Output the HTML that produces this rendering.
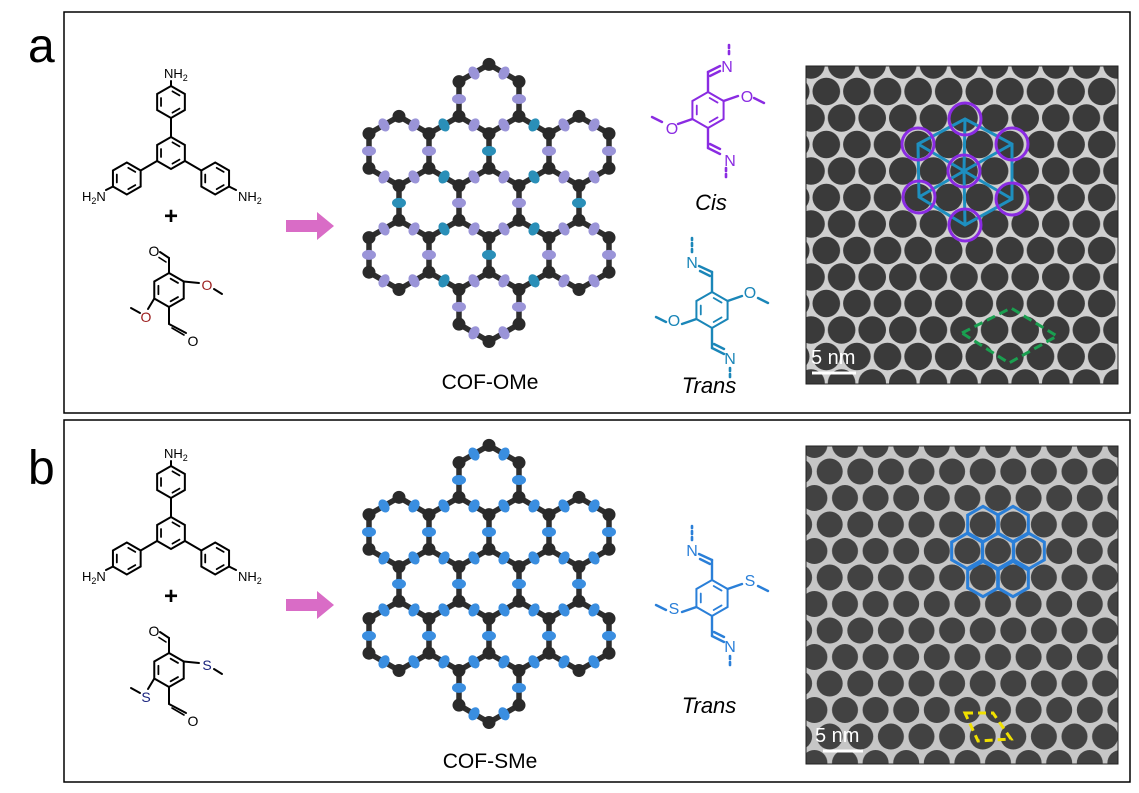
<!DOCTYPE html>
<html><head><meta charset="utf-8"><style>
html,body{margin:0;padding:0;background:#fff;}
svg{display:block;font-family:"Liberation Sans",Arial,sans-serif;}
</style></head><body>
<svg id="s" width="1139" height="793" viewBox="0 0 1139 793" xmlns="http://www.w3.org/2000/svg">
<defs>
<pattern id="pa" patternUnits="userSpaceOnUse" x="964" y="171" width="30.6" height="53">
<rect width="30.6" height="53" fill="#cfcfcf"/>
<circle cx="0" cy="0" r="13.8" fill="#3a3a3a"/><circle cx="30.6" cy="0" r="13.8" fill="#3a3a3a"/>
<circle cx="15.3" cy="26.5" r="13.8" fill="#3a3a3a"/>
<circle cx="0" cy="53" r="13.8" fill="#3a3a3a"/><circle cx="30.6" cy="53" r="13.8" fill="#3a3a3a"/>
</pattern>
<pattern id="pb" patternUnits="userSpaceOnUse" x="998" y="551" width="30.6" height="53">
<rect width="30.6" height="53" fill="#c6c6c6"/>
<circle cx="0" cy="0" r="13" fill="#424242"/><circle cx="30.6" cy="0" r="13" fill="#424242"/>
<circle cx="15.3" cy="26.5" r="13" fill="#424242"/>
<circle cx="0" cy="53" r="13" fill="#424242"/><circle cx="30.6" cy="53" r="13" fill="#424242"/>
</pattern>
</defs>
<rect x="64" y="12" width="1066" height="401" fill="none" stroke="#000" stroke-width="1.5"/>
<rect x="64" y="420" width="1066" height="362" fill="none" stroke="#000" stroke-width="1.5"/>
<text x="28" y="62" font-size="48">a</text>
<text x="28" y="484" font-size="48">b</text>

<!-- TEM a -->
<rect x="806" y="66" width="312" height="318" fill="url(#pa)" stroke="#222" stroke-width="1"/>
<g stroke="#1e8fbf" stroke-width="3" fill="none">
<polygon points="965,119 1012,144 1012,199 965,225 919,197 918,144"/>
<line x1="964" y1="171" x2="965" y2="119"/><line x1="964" y1="171" x2="1012" y2="144"/><line x1="964" y1="171" x2="1012" y2="199"/>
<line x1="964" y1="171" x2="965" y2="225"/><line x1="964" y1="171" x2="919" y2="197"/><line x1="964" y1="171" x2="918" y2="144"/>
</g>
<g stroke="#8a2be2" stroke-width="3" fill="none">
<circle cx="965" cy="119" r="16"/><circle cx="918" cy="144" r="16"/><circle cx="1012" cy="144" r="16"/>
<circle cx="964" cy="171" r="16"/><circle cx="919" cy="197" r="16"/><circle cx="1012" cy="199" r="16"/><circle cx="965" cy="225" r="16"/>
</g>
<polygon points="962,333 1011,308 1057,336 1009,363" fill="none" stroke="#1aa050" stroke-width="3" stroke-dasharray="9,5"/>
<text x="811" y="364" font-size="20" fill="#fff">5 nm</text>
<line x1="812" y1="373" x2="856" y2="373" stroke="#fff" stroke-width="3"/>

<!-- TEM b -->
<rect x="806" y="446" width="312" height="318" fill="url(#pb)" stroke="#222" stroke-width="1"/>
<g id="bluehex" stroke="#2a7fd8" stroke-width="3" fill="none"></g>
<polygon points="965,713 993,713 1011,739 978,741" fill="none" stroke="#f0e000" stroke-width="3" stroke-dasharray="8,5"/>
<text x="815" y="742" font-size="20" fill="#fff">5 nm</text>
<line x1="823" y1="751" x2="863" y2="751" stroke="#fff" stroke-width="3"/>

<!-- arrows -->
<polygon points="286,220 317,220 317,212 334,226 317,240 317,232 286,232" fill="#d96cc6"/>
<polygon points="286,599 317,599 317,591 334,605 317,619 317,611 286,611" fill="#d96cc6"/>

<g id="cofa"></g><g id="cofb"></g>
<g id="mols" fill="none" stroke-linecap="round"></g>

<!-- texts -->
<g font-size="13" fill="#000">
<text x="164" y="78">NH<tspan font-size="9" dy="3">2</tspan></text>
<text x="82" y="201">H<tspan font-size="9" dy="3">2</tspan><tspan dy="-3">N</tspan></text>
<text x="238" y="201">NH<tspan font-size="9" dy="3">2</tspan></text>
<text x="164" y="458">NH<tspan font-size="9" dy="3">2</tspan></text>
<text x="82" y="581">H<tspan font-size="9" dy="3">2</tspan><tspan dy="-3">N</tspan></text>
<text x="238" y="581">NH<tspan font-size="9" dy="3">2</tspan></text>
</g>
<text x="171" y="224" font-size="24" font-weight="bold" text-anchor="middle">+</text>
<text x="171" y="604" font-size="24" font-weight="bold" text-anchor="middle">+</text>
<g font-size="14" text-anchor="middle">
<text x="154" y="256">O</text><text x="193" y="346">O</text>
<text x="207" y="290" fill="#9b1c1c">O</text><text x="146" y="322" fill="#9b1c1c">O</text>
<text x="154" y="636">O</text><text x="193" y="726">O</text>
<text x="207" y="670" fill="#1a237e">S</text><text x="146" y="702" fill="#1a237e">S</text>
</g>
<g font-size="16" text-anchor="middle">
<text x="727" y="72" fill="#8a2be2">N</text><text x="730" y="166" fill="#8a2be2">N</text>
<text x="747" y="102" fill="#8a2be2">O</text><text x="672" y="134" fill="#8a2be2">O</text>
<text x="692" y="268" fill="#1a86b8">N</text><text x="730" y="364" fill="#1a86b8">N</text>
<text x="750" y="298" fill="#1a86b8">O</text><text x="674" y="326" fill="#1a86b8">O</text>
<text x="692" y="556" fill="#2a7fd8">N</text><text x="730" y="652" fill="#2a7fd8">N</text>
<text x="750" y="586" fill="#2a7fd8">S</text><text x="674" y="614" fill="#2a7fd8">S</text>
</g>
<text x="711" y="210" font-size="22" font-style="italic" text-anchor="middle">Cis</text>
<text x="709" y="393" font-size="22" font-style="italic" text-anchor="middle">Trans</text>
<text x="709" y="713" font-size="22" font-style="italic" text-anchor="middle">Trans</text>
<text x="490" y="389" font-size="21" text-anchor="middle">COF-OMe</text>
<text x="490" y="768" font-size="21" text-anchor="middle">COF-SMe</text>
</svg>
<script>
var NS="http://www.w3.org/2000/svg";
function el(p,t,a){var e=document.createElementNS(NS,t);for(var k in a)e.setAttribute(k,a[k]);p.appendChild(e);return e;}
function hexPts(cx,cy,R){var p=[];for(var i=0;i<6;i++){var a=(-90+60*i)*Math.PI/180;p.push([cx+R*Math.cos(a),cy+R*Math.sin(a)]);}return p;}
var bh=document.getElementById("bluehex");
[[983,524],[1013,524],[967,551],[998,551],[1029,551],[983,579],[1013,579]].forEach(function(c){
 el(bh,"polygon",{points:hexPts(c[0],c[1],17.7).map(function(p){return p.join(",")}).join(" ")});});
function cof(gid,cx,top,S,teal,c1,c2){
 var g=document.getElementById(gid),R=S/Math.sqrt(3),dy=1.5*R;
 var rows=[[0],[-1.5,-0.5,0.5,1.5],[-1,0,1],[-1.5,-0.5,0.5,1.5],[0]];
 var edges={},verts={};
 rows.forEach(function(r,ri){r.forEach(function(o){
  var x=cx+o*S,y=top+ri*dy,p=hexPts(x,y,R);
  for(var i=0;i<6;i++){var a=p[i],b=p[(i+1)%6];
   var mx=(a[0]+b[0])/2,my=(a[1]+b[1])/2,k=Math.round(mx)+"_"+Math.round(my);
   edges[k]=[a,b,mx,my];
   verts[Math.round(a[0])+"_"+Math.round(a[1])]=a;}
 });});
 for(var k in edges){var e=edges[k];
  el(g,"line",{x1:e[0][0],y1:e[0][1],x2:e[1][0],y2:e[1][1],stroke:"#2e2e2e","stroke-width":5.5});}
 for(var k in verts){var v=verts[k];
  el(g,"circle",{cx:v[0],cy:v[1],r:6.5,fill:"#2a2a2a"});}
 for(var k in edges){var e=edges[k],col=c1;
  if(teal){teal.forEach(function(t){if(Math.abs(t[0]-e[2])<10&&Math.abs(t[1]-e[3])<10)col=c2;});}
  var ang=Math.atan2(e[1][1]-e[0][1],e[1][0]-e[0][0])*180/Math.PI;
  el(g,"ellipse",{cx:e[2],cy:e[3],rx:5,ry:7,fill:col,transform:"rotate("+ang+" "+e[2]+" "+e[3]+")"});
 }
}
cof("cofa",489,99,60,[[447,130],[533,130],[488,155],[447,182],[533,182],[400,207],[575,207],[447,232],[533,232],[488,257],[447,282],[533,282]],"#9a94d8","#2a8fb8");
cof("cofb",489,480,60,null,"#3a8ee0","#3a8ee0");
var m=document.getElementById("mols");
function L(x1,y1,x2,y2,c,w,d){var a={x1:x1,y1:y1,x2:x2,y2:y2,stroke:c,"stroke-width":w||2};if(d)a["stroke-dasharray"]=d;el(m,"line",a);}
function ring(cx,cy,r,c){var p=hexPts(cx,cy,r);
 el(m,"polygon",{points:p.map(function(q){return q.join(",")}).join(" "),stroke:c,"stroke-width":2,fill:"none"});
 for(var i=0;i<6;i+=2){var a=p[i],b=p[(i+1)%6];var f=0.72;
  L(cx+(a[0]-cx)*f+(b[0]-a[0])*0.15*f,cy+(a[1]-cy)*f+(b[1]-a[1])*0.15*f,cx+(b[0]-cx)*f-(b[0]-a[0])*0.15*f,cy+(b[1]-cy)*f-(b[1]-a[1])*0.15*f,c,1.8);}
 return p;}
function amine(oy){
 var c="#000";ring(171,153+oy,16,c);
 ring(171,102+oy,16,c);ring(126.8,178.5+oy,16,c);ring(215.2,178.5+oy,16,c);
 L(171,137+oy,171,118+oy,c);
 L(157,161+oy,140.7,170.5+oy,c);L(185,161+oy,201.3,170.5+oy,c);
 L(171,86+oy,171,81+oy,c);
 L(113,186.5+oy,106,190+oy,c);L(229,186.5+oy,236,190+oy,c);
}
amine(0);amine(380);
function ald(oy){
 var c="#000";ring(169,290+oy,17,c);
 L(169,273+oy,169,258+oy,c);L(169,258+oy,160,252+oy,c);L(166,262+oy,159,257.5+oy,c,1.6);
 L(183.7,281.5+oy,199,283+oy,c);L(214,289+oy,222,294+oy,c);
 L(154.3,298.5+oy,148,309+oy,c);L(140,313+oy,131,308+oy,c);
 L(169,307+oy,169,324+oy,c);L(169,324+oy,186,333+oy,c);L(172,328+oy,184,335+oy,c,1.6);
}
ald(0);ald(380);
function link(cx,cy,c,trans){
 ring(cx,cy,18,c);
 var w=2.4;
 if(!trans){L(cx,cy-18,cx,cy-38,c,w);L(cx,cy-38,cx+12,cy-44,c,w);L(cx+2,cy-34,cx+12,cy-39,c,w);L(cx+21,cy-56,cx+21,cy-68,c,2.6,"3,3");}
 else {L(cx,cy-18,cx,cy-38,c,w);L(cx,cy-38,cx-13,cy-44,c,w);L(cx-2,cy-34,cx-12,cy-39,c,w);L(cx-20,cy-58,cx-20,cy-72,c,2.6,"3,3");}
 L(cx,cy+18,cx,cy+38,c,w);L(cx,cy+38,cx+12,cy+44,c,w);L(cx+2,cy+34,cx+12,cy+39,c,w);L(cx+18,cy+58,cx+18,cy+70,c,2.6,"3,3");
 L(cx+15.6,cy-9,cx+30,cy-14,c,w);L(cx+46,cy-12,cx+56,cy-7,c,w);
 L(cx-15.6,cy+9,cx-30,cy+14,c,w);L(cx-46,cy+12,cx-56,cy+7,c,w);
}
link(708,110,"#8a2be2",false);
link(712,310,"#1a86b8",true);
link(712,598,"#2a7fd8",true);
</script>
</body></html>
